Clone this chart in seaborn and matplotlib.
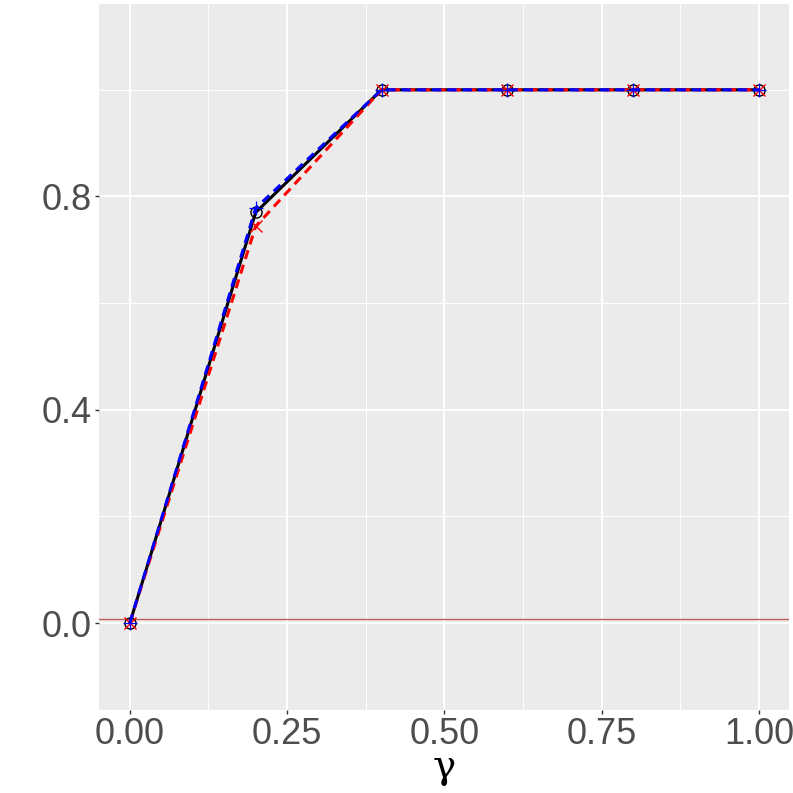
import numpy as np
import pandas as pd
import seaborn as sns
import matplotlib.pyplot as plt
from matplotlib.ticker import MultipleLocator

# Values
gamma = [0.0, 0.2, 0.4, 0.6, 0.8, 1.0]
power_black = [0.0, 0.770, 1.0, 1.0, 1.0, 1.0]
power_red = [0.0, 0.744, 1.0, 1.0, 1.0, 1.0]
power_blue = [0.0, 0.778, 1.0, 1.0, 1.0, 1.0]
ref_level = 0.007

x_ticks = [0.0, 0.25, 0.5, 0.75, 1.0]
x_tick_labels = ["0.00", "0.25", "0.50", "0.75", "1.00"]
y_ticks = [0.0, 0.4, 0.8]
y_tick_labels = ["0.0", "0.4", "0.8"]

df = pd.DataFrame({"gamma": gamma, "black": power_black,
                   "red": power_red, "blue": power_blue})

sns.set_theme(style="darkgrid")
plt.rcParams['font.family'] = ['Liberation Sans', 'DejaVu Sans']

fig = plt.figure(figsize=(7.93, 7.93), dpi=100)
ax = fig.add_axes([0.1248, 0.1047, 0.8698, 0.8903])
ax.set_facecolor("#EBEBEB")

ax.axhline(ref_level, color="#C0605A", lw=1.0, zorder=2)

sns.lineplot(data=df, x="gamma", y="black", ax=ax, color="black", lw=2.2,
             linestyle="-", marker="o", markersize=8, markerfacecolor="none",
             markeredgecolor="black", markeredgewidth=1.0, zorder=3)
sns.lineplot(data=df, x="gamma", y="red", ax=ax, color="red", lw=2.2,
             linestyle=(0, (3, 2)), marker="x", markersize=8,
             markeredgecolor="red", markeredgewidth=1.0, zorder=4)
sns.lineplot(data=df, x="gamma", y="blue", ax=ax, color="blue", lw=2.2,
             linestyle=(0, (3, 2)), marker="+", markersize=10,
             markeredgecolor="blue", markeredgewidth=0.9, zorder=5)

ax.set_xlim(-0.049, 1.047)
ax.set_ylim(-0.163, 1.161)

ax.set_xticks(x_ticks)
ax.set_xticklabels(x_tick_labels)
ax.set_yticks(y_ticks)
ax.set_yticklabels(y_tick_labels)
ax.xaxis.set_minor_locator(MultipleLocator(0.125))
ax.yaxis.set_minor_locator(MultipleLocator(0.2))

ax.grid(which="major", color="white", lw=1.4)
ax.grid(which="minor", color="white", lw=0.7)
ax.set_axisbelow(True)
for s in ax.spines.values():
    s.set_visible(False)

ax.tick_params(axis="both", which="major", labelsize=26, labelcolor="#4D4D4D",
               length=3, width=1, color="#333333", pad=2, bottom=True, left=True)
ax.tick_params(axis="both", which="minor", length=0)

ax.set_xlabel("γ", fontsize=28, family=["DejaVu Serif"], color="black", labelpad=-2)
ax.set_ylabel("")

fig.savefig("out.png", dpi=100)
